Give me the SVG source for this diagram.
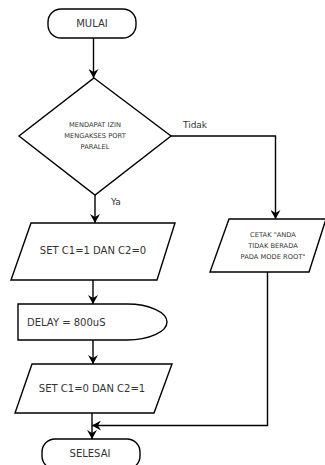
<svg xmlns="http://www.w3.org/2000/svg" width="325" height="465" viewBox="0 0 325 465">
<style>
.s{fill:#fff;stroke:#000;stroke-width:1.4}
.c{fill:none;stroke:#000;stroke-width:1.4}
text{font-family:"DejaVu Sans",sans-serif;fill:#333;text-anchor:middle}
.t10{font-size:10px}
.t9{font-size:9px}
.t7{font-size:6.7px}
</style>
<defs>
<marker id="a" markerWidth="10" markerHeight="10" refX="9" refY="5" orient="auto" markerUnits="userSpaceOnUse">
<path d="M0,0 L9,5 L0,10 L3,5 z" fill="#000"/>
</marker>
</defs>
<g id="connectors">
<path class="c" d="M93.5,38 V78" marker-end="url(#a)"/>
<path class="c" d="M95,195 V223" marker-end="url(#a)"/>
<path class="c" d="M171,136 H275.5 V219" marker-end="url(#a)"/>
<path class="c" d="M93,280 V304" marker-end="url(#a)"/>
<path class="c" d="M93,340 V364" marker-end="url(#a)"/>
<path class="c" d="M92,413 V439" marker-end="url(#a)"/>
<path class="c" d="M267.5,272 V425.5 H92" marker-end="url(#a)"/>
</g>
<g id="mulai">
<rect class="s" x="48" y="9" width="88" height="29" rx="13" ry="13"/>
<text class="t10" x="92" y="27">MULAI</text>
</g>
<g id="decision">
<polygon class="s" points="94,78 171,136 95,195 19,136"/>
<text class="t7" x="95" y="127">MENDAPAT IZIN</text>
<text class="t7" x="95" y="138">MENGAKSES PORT</text>
<text class="t7" x="95" y="149">PARALEL</text>
</g>
<g id="label-tidak"><text class="t9" x="195" y="128">Tidak</text></g>
<g id="label-ya"><text class="t9" x="116" y="205">Ya</text></g>
<g id="set1">
<polygon class="s" points="31,223 175,223 157,280 11,280"/>
<text class="t10" x="93" y="254">SET C1=1 DAN C2=0</text>
</g>
<g id="cetak">
<polygon class="s" points="229,219 326,219 309,272 210,272"/>
<text class="t7" x="273" y="237">CETAK "ANDA</text>
<text class="t7" x="273" y="248">TIDAK BERADA</text>
<text class="t7" x="273" y="259">PADA MODE ROOT"</text>
</g>
<g id="delay">
<path class="s" d="M18,304 H127 A40,18 0 0 1 127,340 H18 Z"/>
<text class="t10" x="27" y="326" style="text-anchor:start">DELAY = 800uS</text>
</g>
<g id="set2">
<polygon class="s" points="32,364 172,364 154,413 15,413"/>
<text class="t10" x="92" y="392">SET C1=0 DAN C2=1</text>
</g>
<g id="selesai">
<rect class="s" x="42" y="439" width="98" height="30" rx="13" ry="13"/>
<text class="t10" x="90" y="457">SELESAI</text>
</g>
</svg>
